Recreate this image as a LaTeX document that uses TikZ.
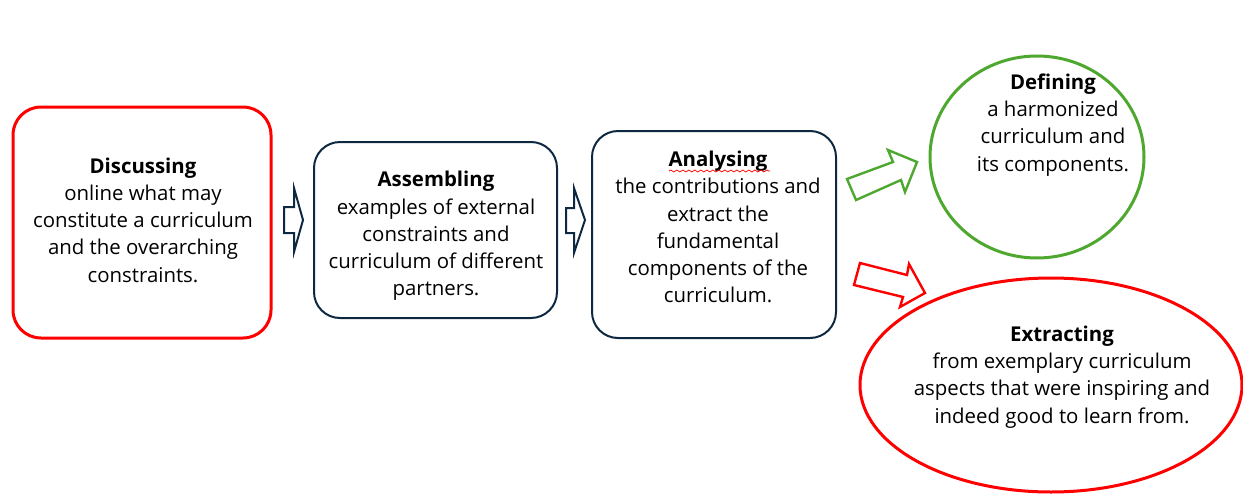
\documentclass[tikz,border=0pt]{standalone}
\usepackage{fontspec}
\setmainfont{Open Sans}
\usetikzlibrary{shapes.geometric,decorations.pathmorphing}
\definecolor{navy}{HTML}{0E2841}
\definecolor{myred}{HTML}{FF0000}
\definecolor{mygreen}{HTML}{4EA72E}
\begin{document}
\begin{tikzpicture}[x=0.5pt,y=-0.5pt,
  box/.style={draw=navy,line width=1pt,rounded corners=13pt,fill=white},
  redbox/.style={draw=myred,line width=1.5pt,rounded corners=14pt,fill=white},
  txt/.style={align=center,font=\fontsize{10.2}{13.6}\selectfont,inner sep=0pt},
  blk/.style={draw=navy,line width=1pt,fill=white,line join=miter},
]
\useasboundingbox (0,0) rectangle (1243,493);
% shapes
\node[redbox,minimum width=129pt,minimum height=115.5pt] (b1) at (142,222.5) {};
\node[box,minimum width=121.5pt,minimum height=88pt] (b2) at (435.5,230) {};
\node[box,minimum width=122pt,minimum height=103.5pt] (b3) at (714,234.5) {};
\node[ellipse,draw=mygreen,line width=1.5pt,minimum width=107pt,minimum height=101pt,inner sep=0pt] (c1) at (1037,157) {};
\node[ellipse,draw=myred,line width=1.5pt,minimum width=191pt,minimum height=107pt,inner sep=0pt] (c2) at (1051,385) {};
% block arrows
\draw[blk] (284,207) -- (294,207) -- (294,188) -- (303,220) -- (294,252) -- (294,233) -- (284,233) -- cycle;
\draw[blk] (566,208) -- (574,208) -- (574,188) -- (585,220) -- (574,253) -- (574,233) -- (566,233) -- cycle;
\draw[draw=mygreen,line width=1.2pt,fill=white,line join=miter] (847,179) -- (893,162) -- (888,150) -- (917,162) -- (905,192) -- (901,180) -- (856,200) -- cycle;
\draw[draw=myred,line width=1.2pt,fill=white,line join=miter] (860,263) -- (907,275) -- (909,264) -- (925,293) -- (900,307) -- (903,297) -- (854,285) -- cycle;
% texts
\node[txt] (t1) at (143,220) {\textbf{Discussing}\\online what may\\constitute a curriculum\\and the overarching\\constraints.};
\node[txt] (t2) at (436,236) {\textbf{Assembling}\\examples of external\\constraints and\\curriculum of different\\partners.};
\node[txt] (t3) at (718,227) {\textbf{Analysing}\\the contributions and\\extract the\\fundamental\\components of the\\curriculum.};
\node[txt] (t4) at (1053,125) {\textbf{Defining}\\a harmonized\\curriculum and\\its components.};
\node[txt] (t5) at (1062,377) {\textbf{Extracting}\\from exemplary curriculum\\aspects that were inspiring and\\indeed good to learn from.};
% spell-check squiggle
\coordinate (sqa) at (669,171);
\coordinate (sqb) at (770,171);
\draw[myred,line width=0.4pt,decorate,decoration={snake,amplitude=0.5pt,segment length=3pt}] (sqa) -- (sqb);
\end{tikzpicture}
\end{document}
